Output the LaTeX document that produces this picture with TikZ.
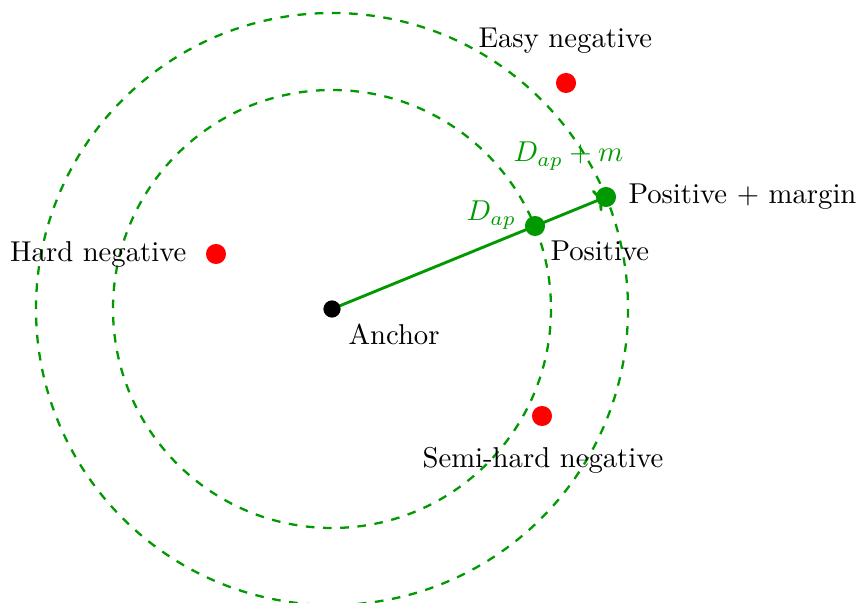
\documentclass[tikz,border=0pt]{standalone}
\usetikzlibrary{arrows.meta}
\definecolor{dgreen}{RGB}{0,153,0}
\begin{document}
\begin{tikzpicture}[x=0.3484pt,y=-0.3484pt,
  ring/.style={draw=dgreen,thick,dashed},
  reddot/.style={circle,fill=red,inner sep=0pt,minimum size=7pt},
  greendot/.style={circle,fill=dgreen,inner sep=0pt,minimum size=7pt},
  blackdot/.style={circle,fill=black,inner sep=0pt,minimum size=6pt},
  lbl/.style={inner sep=0pt,font=\normalsize},
  glbl/.style={inner sep=0pt,text=dgreen}]
\useasboundingbox (0,0) rectangle (859,603);
\coordinate (A) at (332,309);
\draw[ring] (A) circle[radius=219];
\draw[ring] (A) circle[radius=296];
\coordinate (Pc) at (535,226);
\coordinate (Mc) at (606,197);
\draw[dgreen,line width=1pt,->] (A) -- (Mc);
\node[blackdot] (anchor) at (A) {};
\node[greendot] (pos) at (Pc) {};
\node[greendot] (posm) at (Mc) {};
\node[reddot] (hard) at (216,254) {};
\node[reddot] (easy) at (566,83) {};
\node[reddot] (semi) at (542,416) {};
\node[lbl,anchor=base east] (thard) at (187,262) {Hard negative};
\node[lbl,anchor=base west] (tposm) at (628,204) {Positive + margin};
\node[lbl,anchor=base west] (tpos) at (550,261) {Positive};
\node[lbl,anchor=base west] (tanc) at (348,345) {Anchor};
\node[lbl,anchor=base west] (teasy) at (478,48) {Easy negative};
\node[lbl,anchor=base west] (tsemi) at (422,468) {Semi-hard negative};
\node[glbl,anchor=base west] (tdm) at (513,162) {$D_{ap}+m$};
\node[glbl,anchor=base west] (tda) at (466,221) {$D_{ap}$};
\end{tikzpicture}
\end{document}
